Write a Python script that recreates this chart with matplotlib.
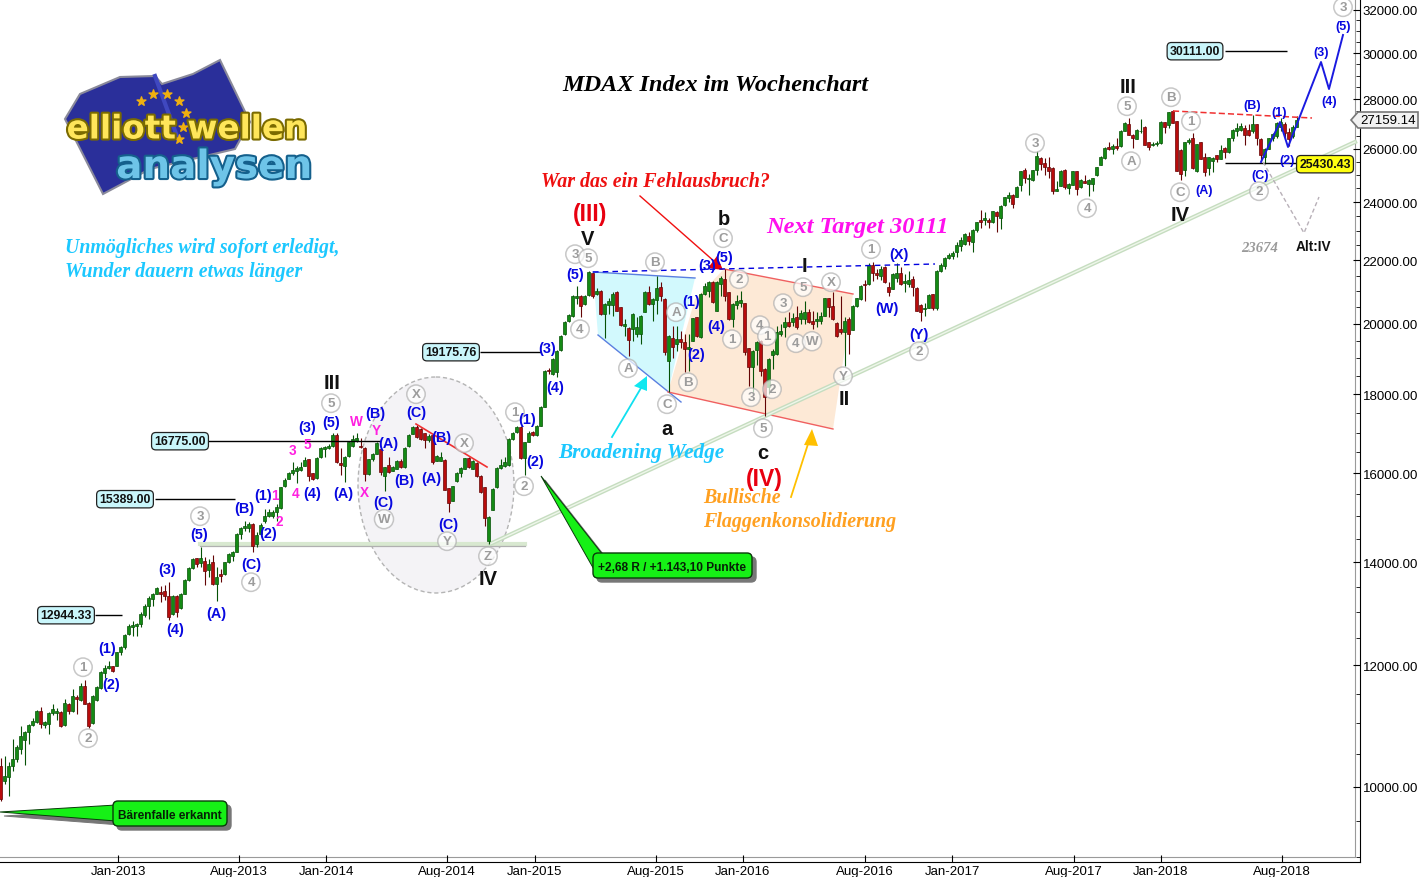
import matplotlib
matplotlib.use('Agg')
import matplotlib.pyplot as plt
import matplotlib.patheffects as pe
from matplotlib.patches import Polygon, Ellipse, FancyBboxPatch
from matplotlib.ticker import FixedLocator, NullFormatter

SANS = 'Liberation Sans'
SERIF = 'Liberation Serif'

opens = [
10325,10095,10150,10325,10428,10590,10730,10853,10977,11020,
11210,10977,10990,11165,11165,11182,10977,11320,11210,11450,
11390,11625,11340,11000,11390,11595,11860,11945,11980,11990,
12233,12330,12570,12715,12730,12760,12940,13120,13255,13350,
13383,13400,13310,12950,13300,13065,13350,13635,13875,14080,
13980,14020,13830,14000,13550,13760,13750,14000,14130,14225,
14610,14730,14730,14830,14385,14600,14883,14995,15000,15085,
15185,15685,15858,16000,16060,16075,16178,16340,15990,15875,
16380,16590,16610,16655,16925,16230,16178,16420,16650,16780,
16670,16610,15975,16340,16465,16590,15940,16195,16060,16100,
16300,16140,16655,16965,17150,17095,16990,16800,16925,16300,
16300,16325,15636,15350,15810,16000,16100,16355,16100,16240,
15940,15660,14460,15145,15660,16115,16160,16195,16838,17007,
17150,16355,16770,17007,16925,17176,17670,18680,18560,18603,
19240,19700,20100,20230,20790,20845,20605,20885,21585,20920,
21020,20300,20575,20575,20969,20500,19948,19880,19850,19700,
19700,20370,20990,20605,20740,21130,20761,18930,19574,19410,
19554,19455,19265,19505,20200,19600,20915,21020,21310,20400,
21230,21392,20969,20148,20575,20640,20625,19280,18740,19240,
19505,18696,18190,19090,19120,19700,19900,20050,20050,20200,
20148,20148,20370,20100,20100,20100,20250,20780,20555,20028,
19850,19750,20148,19830,20555,20761,21240,21220,21840,21590,
21480,21790,21140,21090,21420,21590,21280,21220,21400,21110,
20590,20440,20490,20910,20490,21650,21800,22070,22130,22270,
22460,22540,22810,22620,23030,23360,23360,23360,23290,23650,
23440,23900,24160,24250,24200,24640,25170,24830,24800,25170,
25640,25430,25300,25250,24420,24600,25200,24500,24640,25130,
24540,24780,24660,24660,24990,25390,25640,26050,26000,26100,
26100,26710,26970,26545,26390,26680,26875,26260,26130,26180,
26220,27050,26940,27510,27100,25965,25200,26260,26415,25135,
26260,25665,25260,25515,25745,25615,26030,25870,26415,26680,
26745,26810,26745,26680,26965,26390,25670,26000,26415,26480,
26875,26965,26650,26480,26875]

closes = [
9822,10170,10325,10428,10610,10800,10853,10977,11040,11210,
10990,11015,11165,11235,11200,10961,11340,11210,11465,11400,
11630,11330,10950,11465,11610,11885,11945,11990,11905,12233,
12330,12555,12730,12745,12760,12955,13120,13265,13345,13480,
13340,13300,12890,13310,13000,13350,13630,13880,14070,13960,
14080,13810,13960,13550,13690,13710,14000,14175,14210,14600,
14730,14770,14830,14350,14580,14810,15010,15085,15100,15215,
15660,15845,16000,16080,16115,16140,16325,15937,15860,16365,
16610,16630,16655,16940,16260,16195,16400,16755,16840,16860,
16630,15975,16340,16450,16730,16017,16140,16017,16140,16300,
16140,16620,16940,17135,16880,16838,16810,16910,16260,16405,
16400,15605,15298,15685,16000,16115,16355,16140,16300,15940,
15545,14950,14975,15620,16115,16195,16275,16838,16990,17150,
16355,16755,16990,16925,17160,17670,18650,18630,18978,19215,
19650,20068,20280,20865,20845,20555,20865,21607,20865,21020,
20300,20605,20710,20920,20400,19970,19998,19525,20300,19900,
20250,20990,20605,20761,21095,20845,19168,19650,19310,19554,
19475,19265,19310,20170,19630,20915,21180,21285,20655,21310,
21425,20865,20148,20605,20710,20740,19168,18740,19215,19455,
18650,17920,18978,19215,19750,19800,20070,19930,20170,19900,
20330,20350,20050,20000,20148,20250,20780,20500,20148,19630,
19770,20100,19700,20555,20780,21180,21190,21840,21570,21530,
21720,21290,20980,21560,21590,21240,21320,21350,21140,20400,
20360,20490,20890,20490,21650,21840,22090,22180,22235,22520,
22670,22890,22640,23020,23290,23300,23440,23290,23670,23500,
23880,24170,24270,23940,24540,25130,24880,24880,25170,25710,
25400,25280,25140,24420,24480,25140,24540,24660,25130,24470,
24820,24700,24810,24880,25290,25660,26030,25990,26120,26040,
26700,27010,26545,26415,26745,26710,26155,26065,26180,26220,
27050,26875,27450,27010,25160,25035,26260,26350,25260,26180,
25615,25110,25665,25640,25615,25965,25870,26415,26745,26835,
26915,26520,26545,26965,26415,25770,26000,26415,26570,27010,
27050,26610,26390,26875,27159]

highs = [
10450,10470,10380,10740,10650,10960,10880,10990,11090,11220,
11270,11040,11180,11330,11250,11200,11410,11340,11580,11470,
11690,11730,11350,11480,11630,11900,12000,12080,11990,12240,
12350,12570,12760,12830,12790,12990,13160,13300,13370,13500,
13520,13530,13590,13330,13320,13360,13650,13900,14080,14090,
14320,14100,14070,14160,13900,13850,14010,14200,14240,14620,
14750,14880,14860,14840,14650,14850,15160,15150,15130,15270,
15680,15870,16020,16260,16180,16260,16400,16350,16010,16380,
16630,16660,16720,16990,16990,16620,16410,16770,16930,16990,
16860,16630,16350,16480,16750,16600,16150,16400,16160,16320,
16340,16630,16950,17170,17200,17110,17000,16950,16940,16440,
16500,16330,15650,15700,16020,16140,16370,16400,16310,16260,
15950,15670,15000,15640,16140,16340,16400,16850,17010,17170,
17170,16770,17030,17030,17190,17690,18680,18720,19000,19240,
19660,20090,20300,20880,21170,20880,20880,21640,21600,21120,
21040,20630,20790,20970,21000,20520,20150,19900,20330,20200,
20270,21010,21170,20800,21500,21300,20800,19670,19950,19950,
19800,19700,19700,20190,20220,20950,21250,21320,21330,21330,
21500,21700,20990,20630,20900,21000,20650,19300,19230,19500,
19520,18710,19000,19260,19950,20000,20200,20350,20330,20555,
20420,20700,20450,20400,20350,20350,20800,20800,20969,20050,
20865,20200,20200,20570,20800,21200,21360,21900,21950,21700,
21800,21820,21300,21580,21900,21770,21550,21650,21500,21130,
20610,20650,20910,20930,21670,21900,22110,22250,22300,22600,
22770,22920,22950,23040,23300,23720,23650,23420,23700,23700,
23900,24190,24350,24300,24600,25150,25250,25050,25190,25900,
25680,25640,25660,25300,24780,25170,25220,24700,25160,25150,
24850,25000,24850,24900,25310,25700,26060,26250,26200,26400,
26720,27040,27220,26570,26760,27185,26900,26280,26250,26300,
27080,27070,27470,27530,27120,25980,26280,26400,26600,26200,
26280,25820,25680,25680,25770,26155,26060,26430,26760,27000,
27020,26950,26990,27345,26990,26420,26020,26430,26600,27040,
27210,27050,26800,26950,27300]

lows = [
9790,10050,9870,10240,10380,10510,10330,10660,10950,11000,
10930,10920,10830,11130,11050,10940,10960,11150,11190,11160,
11370,11320,10930,10990,11370,11580,11780,11930,11880,11985,
12190,12300,12550,12540,12540,12700,12900,12860,13120,13340,
13200,13240,12840,12930,12900,13050,13340,13620,13850,13900,
13900,13530,13700,13540,13220,13600,13740,13990,14030,14220,
14500,14680,14650,14210,14320,14580,14840,14970,14960,14900,
15160,15670,15850,15960,15760,16040,16160,15820,15830,15860,
16370,16400,16590,16640,16240,15960,15780,16400,16630,16760,
16600,15820,15960,16300,16450,15960,15570,16000,16040,16090,
16120,16130,16640,16950,16860,16800,16600,16760,16210,16280,
16280,15590,15100,15340,15790,15900,16090,16120,16090,15900,
15520,14790,14380,15130,15640,16090,16140,16180,16820,17000,
16340,15950,16750,16900,16900,17170,17650,18560,18540,18480,
19220,19680,20050,20210,20600,20200,20580,20870,20800,20900,
20280,19590,20300,20250,20380,19950,19650,19070,19500,19600,
19400,20350,20580,20100,20300,20700,19100,18054,19000,19200,
19300,18600,18650,19490,19610,19580,20900,20830,20630,20380,
20850,20700,20120,19920,20450,20500,19100,18235,18050,18800,
18500,17435,18000,18700,19100,19650,19600,19900,19950,19850,
20000,20000,20030,19850,19900,20000,20230,20200,20130,19600,
19700,18789,19120,19810,20500,20740,20690,21200,21320,21380,
21350,21270,20870,21070,21300,21200,20980,21150,20870,20380,
20100,20240,20470,20420,20420,21630,21700,22050,22050,22100,
22300,22520,22500,22260,22950,23100,23200,23090,23270,22950,
23050,23880,24000,23800,24170,24400,24700,24250,24790,25000,
25200,25000,24900,24300,24400,24580,24480,24300,24620,24250,
24500,24680,24240,24400,24970,25370,25600,25950,25800,25950,
26080,26690,26530,26030,26370,26600,26130,25930,26100,26100,
26200,26600,26800,27000,25140,24810,24950,26200,25240,25100,
25595,24950,25000,25110,25500,25600,25640,25850,26300,26500,
26700,26155,26500,26600,26155,25500,25400,25980,26300,26400,
26700,26400,26100,26400,26850]

y_ticks = [10000,12000,14000,16000,18000,20000,22000,24000,26000,28000,30000,32000]
y_minor = [9000,9500,10500,11000,11500,12500,13000,13500,14500,15000,15500,16500,17000,17500,
           18500,19000,19500,20500,21000,21500,22500,23000,23500,24500,25000,25500,26500,27000,
           27500,28500,29000,29500,30500,31000,31500]
x_tick_weeks = [29.4,59.6,81.4,111.6,133.6,163.9,185.6,216.1,237.9,268.4,290.1,320.4]
x_tick_labels = ['Jan-2013','Aug-2013','Jan-2014','Aug-2014','Jan-2015','Aug-2015',
                 'Jan-2016','Aug-2016','Jan-2017','Aug-2017','Jan-2018','Aug-2018']
last_price = 27159.14

W, H = 1420, 878
fig = plt.figure(figsize=(W/100, H/100), dpi=100, facecolor='white')

def overlay(z):
    a = fig.add_axes([0, 0, 1, 1], zorder=z)
    a.set_xlim(0, W); a.set_ylim(H, 0); a.axis('off'); a.patch.set_alpha(0)
    return a

bg = overlay(0)
top = overlay(2)

ax = fig.add_axes([0, (H-863)/H, 1360/W, 863/H], zorder=1)
ax.patch.set_alpha(0)
ax.set_yscale('log')
ax.set_xlim(-0.125, 339.875)
ax.set_ylim(8938, 32530)
for s in ['top', 'left']:
    ax.spines[s].set_visible(False)
ax.yaxis.tick_right()
ax.yaxis.set_major_locator(FixedLocator(y_ticks))
ax.yaxis.set_minor_locator(FixedLocator(y_minor))
ax.yaxis.set_major_formatter(matplotlib.ticker.FuncFormatter(lambda v, p: f'{v:.2f}'))
ax.yaxis.set_minor_formatter(NullFormatter())
ax.tick_params(axis='y', which='major', direction='in', length=5, width=0.8, labelsize=9.5, pad=2)
ax.tick_params(axis='y', which='minor', direction='in', length=3, width=0.6)
ax.set_xticks(x_tick_weeks)
ax.set_xticklabels(x_tick_labels)
ax.tick_params(axis='x', direction='in', length=5, width=0.8, labelsize=9.5, pad=2.5)
for lab in ax.get_xticklabels() + ax.get_yticklabels():
    lab.set_fontfamily(SANS)

# candles
for i, (o, c, h, l) in enumerate(zip(opens, closes, highs, lows)):
    up = c >= o
    edge = '#065206' if up else '#640505'
    face = '#148a14' if up else '#b80c0c'
    ax.vlines(i, l, h, color=edge, lw=0.8, zorder=2)
    ax.bar(i, max(abs(c-o), 1), bottom=min(o, c), width=0.8, color=face, edgecolor=edge, lw=0.5, zorder=3)

# level lines (value, first week, last week)
def week(px):
    return (px - 0.5) / 4
for val, x0, x1 in [(12944.33, 95, 122), (15389.00, 155, 235), (16775.00, 208, 380),
                    (19175.76, 480, 541), (30111.00, 1225, 1287), (25430.43, 1225, 1297)]:
    ax.hlines(val, week(x0), week(x1), color='black', lw=1, zorder=4)

# background shapes
bg.plot([0, 1355, 1355], [858, 858, 0], color='#9a9a9a', lw=0.8)
bg.add_patch(Ellipse((436, 486), 156, 216, fc='#f4f3f6', ec='#b4b4b4', ls=(0, (3, 2)), lw=1))
bg.add_patch(Polygon([(593, 273), (695, 279), (668, 393), (681, 403), (598, 336)], fc='#d2f9fd', ec='none'))
bg.add_patch(Polygon([(724, 270), (853, 295), (833, 430), (668, 393), (695, 300)], fc='#fde9d6', ec='none'))
bg.plot([593, 695], [273, 279], color='#5a7fe0', lw=1)
bg.plot([598, 681], [336, 403], color='#5a7fe0', lw=1)
bg.plot([724, 853], [270, 295], color='#f06060', lw=1)
bg.plot([668, 833], [393, 430], color='#f06060', lw=1)
bg.plot([200, 525], [545, 545], color='#d8e8d0', lw=3)
bg.plot([200, 525], [547, 547], color='#b0b0b0', lw=0.9)
bg.plot([490, 1355], [545, 143], color='#c6ddc0', lw=3)
bg.plot([490, 1355], [545, 143], color='#eef6ea', lw=1)

# foreground lines
top.plot([593, 935], [273, 265], color='#0000e0', lw=1, ls=(0, (4, 3)))
top.plot([416, 487], [425, 468], color='#f03030', lw=1.2)
top.plot([1173, 1312], [112, 119], color='#f03030', lw=1.1, ls=(0, (4, 2)))
top.plot([1261, 1280, 1288, 1321, 1329, 1343], [163, 123, 148, 63, 90, 36], color='#1a1ae0', lw=1.4)
top.plot([1263, 1304, 1319], [163, 234, 198], color='#b8b0b8', lw=1, ls=(0, (3, 2)))

# arrows
top.plot([640, 715], [197, 263], color='#f01010', lw=1)
top.add_patch(Polygon([(708, 269), (723, 271), (717, 257)], fc='#e8000a', ec='none'))
top.plot([612, 641], [438, 389], color='#10e0f0', lw=1.3)
top.add_patch(Polygon([(634, 387), (647, 392), (647, 377)], fc='#10e8f0', ec='none'))
top.plot([791, 808], [498, 445], color='#ffc000', lw=1.3)
top.add_patch(Polygon([(804, 446), (818, 447), (812, 430)], fc='#ffc000', ec='none'))

def callout(box, tip, base, text):
    x0, y0, x1, y1 = box
    for dx, fc, ec in [(4, '#777777', '#777777'), (0, '#16f016', '#0a3a0a')]:
        top.add_patch(Polygon([(tip[0]+dx, tip[1]+dx), (base[0][0]+dx, base[0][1]+dx), (base[1][0]+dx, base[1][1]+dx)], fc=fc, ec=ec, lw=0.7))
        top.add_patch(FancyBboxPatch((x0+dx, y0+dx), x1-x0, y1-y0, boxstyle='round,pad=0,rounding_size=5', fc=fc, ec=ec, lw=1))
    top.text((x0+x1)/2, (y0+y1)/2, text, ha='center', va='center', fontsize=8.6, fontweight='bold', family=SANS, color='#062006')

callout((113, 802, 227, 827), (0, 813), ((116, 806), (116, 822)), 'Bärenfalle erkannt')
callout((593, 554, 752, 579), (541, 477), ((603, 556), (596, 574)), '+2,68 R / +1.143,10 Punkte')

def tag(x, y, s, fc='#c9f6fb'):
    top.text(x, y, s, ha='center', va='center', fontsize=8.8, fontweight='bold', family=SANS, color='#111111',
             bbox=dict(boxstyle='round,pad=0.22,rounding_size=0.35', fc=fc, ec='#222222', lw=0.9))

tag(66, 615, '12944.33')
tag(125, 499, '15389.00')
tag(180, 441, '16775.00')
tag(451, 352, '19175.76')
tag(1195, 51, '30111.00')
tag(1325, 164, '25430.43', fc='#ffff10')
top.add_patch(Polygon([(1351, 121), (1358, 113), (1418, 113), (1418, 129), (1358, 129)], fc='#f2f2f2', ec='#777777', lw=1.2))
top.text(1388, 120, f'{last_price:.2f}', ha='center', va='center', fontsize=9.5, family=SANS, color='black')

# serif texts
def st(x, y, s, color, size, ha='left'):
    top.text(x, y, s, ha=ha, va='center', color=color, fontsize=size, family=SERIF, fontweight='bold', style='italic')

st(562, 84, 'MDAX Index im Wochenchart', 'black', 17.5)
st(65, 247, 'Unmögliches wird sofort erledigt,', '#1cc8ff', 14.35)
st(65, 271, 'Wunder dauern etwas länger', '#1cc8ff', 14.35)
st(541, 181, 'War das ein Fehlausbruch?', '#ee1010', 14.4)
st(766, 226, 'Next Target 30111', '#ff10ee', 17.6)
st(558, 452, 'Broadening Wedge', '#1cc8ff', 15.3)
st(703, 497, 'Bullische', '#ffa020', 14.4)
st(703, 521, 'Flaggenkonsolidierung', '#ffa020', 14.4)
top.text(1260, 247, '23674', ha='center', va='center', color='#9a9a9a', fontsize=10.5, family=SERIF, style='italic', fontweight='bold')
top.text(1313, 246, 'Alt:IV', ha='center', va='center', color='#111111', fontsize=9.8, family=SANS, fontweight='bold')

# wave labels
circled = [('1',83,667),('2',88,738),('3',200,516),('4',251,582),('5',331,403),('X',416,394),('W',384,519),
           ('Y',447,541),('X',464,443),('Z',488,556),('1',515,412),('2',524,486),('3',575,254),('5',588,258),
           ('4',580,329),('B',655,262),('A',676,312),('A',628,368),('C',667,404),('B',688,382),('C',723,238),
           ('2',739,279),('1',732,339),('3',751,397),('4',760,325),('1',767,336),('2',772,389),('5',763,428),
           ('3',783,303),('5',803,287),('4',796,343),('W',812,341),('X',831,282),('Y',843,376),('1',871,249),
           ('2',919,351),('3',1035,143),('4',1087,208),('A',1131,161),('5',1127,106),('B',1171,97),('1',1191,121),
           ('C',1180,192),('2',1259,191),('3',1343,7)]
for s, x, y in circled:
    top.text(x, y, s, ha='center', va='center', fontsize=9.6, fontweight='bold', family=SANS, color='#9c9c9c',
             bbox=dict(boxstyle='circle,pad=0.24', fc='white', alpha=0.7, ec='#b0b0b0', lw=1.1))

blue = [('(1)',107,648),('(2)',111,684),('(3)',167,569),('(4)',175,629),('(5)',199,534),('(A)',216,613),('(B)',244,508),
        ('(C)',251,564),('(1)',263,495),('(2)',268,533),('(3)',307,427),('(4)',312,493),('(5)',331,422),('(A)',343,493),
        ('(B)',375,413),('(A)',388,443),('(B)',404,480),('(C)',383,502),('(C)',416,412),('(B)',441,437),('(A)',431,478),
        ('(C)',448,524),('(1)',527,419),('(2)',535,461),('(3)',547,348),('(4)',555,387),('(5)',575,274),('(1)',691,301),
        ('(2)',696,354),('(3)',707,265),('(5)',724,257),('(4)',716,326),('(W)',887,308),('(X)',899,254),('(Y)',919,334),
        ('(A)',1204,190),('(B)',1252,105),('(C)',1260,175),('(1)',1279,112),('(2)',1287,160),('(3)',1321,52),('(4)',1329,101),('(5)',1343,26)]
for s, x, y in blue:
    small = x > 1190
    top.text(x, y, s, ha='center', va='center', fontsize=9.0 if small else 10.4, fontweight='bold', family=SANS, color='#0808e0')

for s, x, y in [('3',292,450),('5',307,444),('4',296,493),('1',275,495),('2',279,521),('W',356,421),('Y',376,430),('X',364,492)]:
    top.text(x, y, s, ha='center', va='center', fontsize=9.8, fontweight='bold', family=SANS, color='#ff20e0')

for s, x, y in [('III',332,382),('IV',488,578),('V',588,238),('b',724,218),('a',667,428),('c',763,452),
                ('I',804,265),('II',844,398),('III',1128,86),('IV',1180,214)]:
    top.text(x, y, s, ha='center', va='center', fontsize=14.5, fontweight='bold', family=SANS, color='#111111')
top.text(590, 213, '(III)', ha='center', va='center', fontsize=16.5, fontweight='bold', family=SANS, color='#e80010')
top.text(764, 478, '(IV)', ha='center', va='center', fontsize=16.5, fontweight='bold', family=SANS, color='#e80010')

# shift all top texts to match the reference baseline
for t in top.texts:
    xt, yt = t.get_position()
    t.set_position((xt, yt + 1.2))

# logo
bg.add_patch(Polygon([(65, 120), (80, 95), (120, 78), (155, 77), (162, 85), (193, 75), (220, 61), (250, 123),
                      (235, 150), (150, 170), (103, 195)], fc='#2a2f9a', ec='#8a8a9a', lw=1.5))
bg.plot([155, 178], [77, 140], color='#3f48c0', lw=3)
bg.scatter([141, 153, 167, 179, 186, 183, 179], [102, 95, 95, 102, 114, 128, 140], marker='*', s=45, color='#f0b010', zorder=3)
bg.text(187, 130, 'elliott wellen', ha='center', va='center', fontsize=23.5, fontweight='bold', family='DejaVu Sans',
        color='#ffe65a', path_effects=[pe.withStroke(linewidth=3, foreground='#7a6a00')], zorder=4)
bg.text(214, 168, 'analysen', ha='center', va='center', fontsize=28, fontweight='bold', family='DejaVu Sans',
        color='#6ec4e8', path_effects=[pe.withStroke(linewidth=3, foreground='#14608c')], zorder=5)

assert len(opens) == len(closes) == len(highs) == len(lows) == 325
fig.savefig('out.png', dpi=100, facecolor='white')
